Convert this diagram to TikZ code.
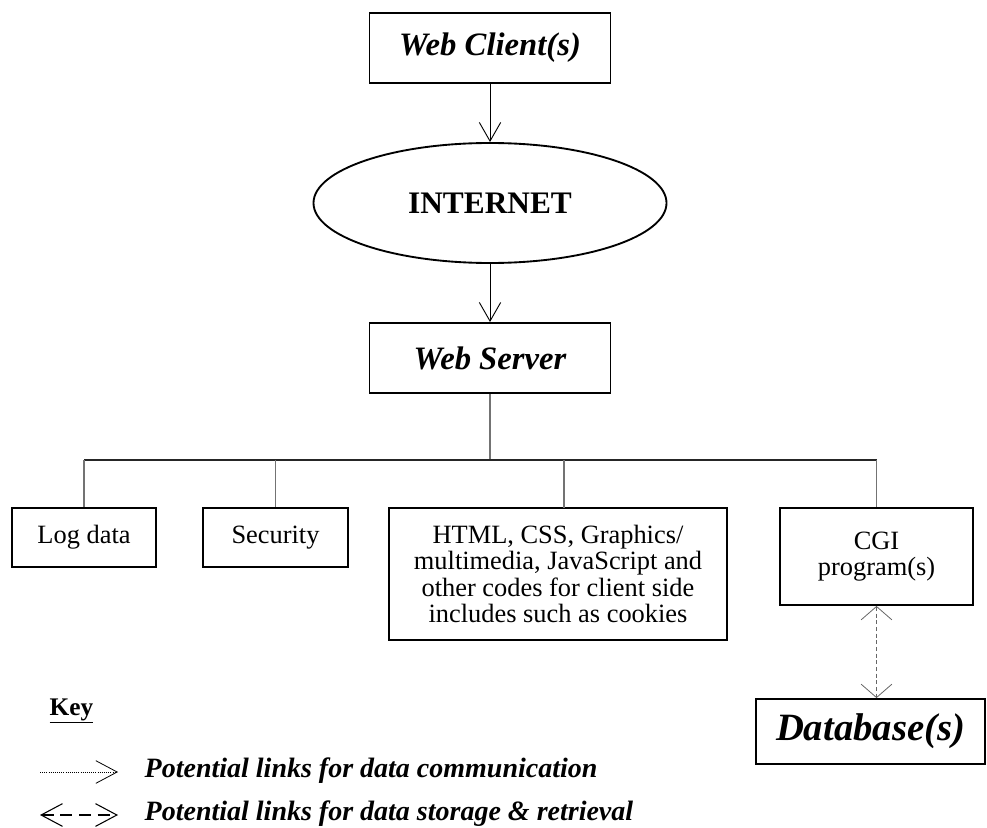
\documentclass[tikz,border=0pt]{standalone}
\usepackage{fontspec}
\setmainfont{Liberation Serif}
\usetikzlibrary{shapes.geometric,arrows.meta}

\begin{document}
\begin{tikzpicture}[x=0.75pt,y=-0.75pt,
  box/.style={draw, line width=1.4pt, inner sep=0pt, align=center},
  bigtxt/.style={font=\fontsize{24.5}{28}\selectfont\bfseries\itshape},
  txt/.style={font=\fontsize{19.8}{19.6}\selectfont},
  keytxt/.style={font=\fontsize{21}{24}\selectfont\bfseries\itshape},
  link/.style={draw=black!55, line width=0.8pt},
  vee/.style={-{Straight Barb[length=14pt,width=16pt]}, line width=0.7pt},
  dbvee/.style={{Straight Barb[length=10pt,width=23pt]}-{Straight Barb[length=10pt,width=23pt]}, densely dashed, draw=black!60, line width=0.6pt}]
\useasboundingbox (0,0) rectangle (987,827);

% top of the chain
\node[box, bigtxt, minimum width=180.75pt, minimum height=52.5pt] (client) at (490,48) {Web Client(s)};
\node[box, ellipse, font=\fontsize{23.5}{28}\selectfont\bfseries, minimum width=264.75pt, minimum height=90pt] (internet) at (490,203) {INTERNET};
\node[box, bigtxt, minimum width=180.75pt, minimum height=52.5pt] (server) at (490,358) {Web Server};
\draw[vee](client) -- (internet);
\draw[vee](internet) -- (server);

% server parts
\node[box, txt, minimum width=108pt, minimum height=44.25pt] (logdata) at (84,537.5) {Log data};
\node[box, txt, minimum width=108.75pt, minimum height=44.25pt] (security) at (275.5,537.5) {Security};
\node[box, txt, minimum width=253.5pt, minimum height=99pt] (html) at (558,574) {HTML, CSS, Graphics/\\multimedia, JavaScript and\\other codes for client side\\includes such as cookies};
\node[box, txt, minimum width=144.75pt, minimum height=72.75pt] (cgi) at (876.5,556.5) {CGI\\program(s)};
\node[box, font=\fontsize{29}{32}\selectfont\bfseries\itshape, minimum width=171.75pt, minimum height=48.75pt] (db) at (870.5,731.5) {Database(s)};

\coordinate (bar) at (490,460);
\draw[link](server) -- (bar);
\draw[draw=black!85, line width=0.8pt](bar -| logdata.north) -- (bar -| cgi.north);
\draw[link](bar -| logdata.north) -- (logdata);
\draw[link](bar -| security.north) -- (security);
\draw[link](bar -| 564,0) -- (564,508);
\draw[link](bar -| cgi.north) -- (cgi);
\draw[dbvee](cgi.south) -- (cgi.south |- db.north);

% key
\node[anchor=base west, font=\fontsize{19}{20}\selectfont\bfseries] (key) at (45,715) {\underline{Key}};
\coordinate (k1a) at (40,772);
\coordinate (k1b) at (118,772);
\coordinate (k2a) at (40,815);
\coordinate (k2b) at (118,815);
\draw[-{Straight Barb[length=16pt,width=17pt]}, densely dotted, line width=0.6pt](k1a) -- (k1b);
\draw[{Straight Barb[length=16pt,width=17pt]}-{Straight Barb[length=16pt,width=17pt]}, dash pattern=on 9pt off 5pt, line width=0.8pt](k2a) -- (k2b);
\node[keytxt, anchor=base west] (key1) at (140,777) {Potential links for data communication};
\node[keytxt, anchor=base west] (key2) at (140,820) {Potential links for data storage \& retrieval};
\end{tikzpicture}
\end{document}
